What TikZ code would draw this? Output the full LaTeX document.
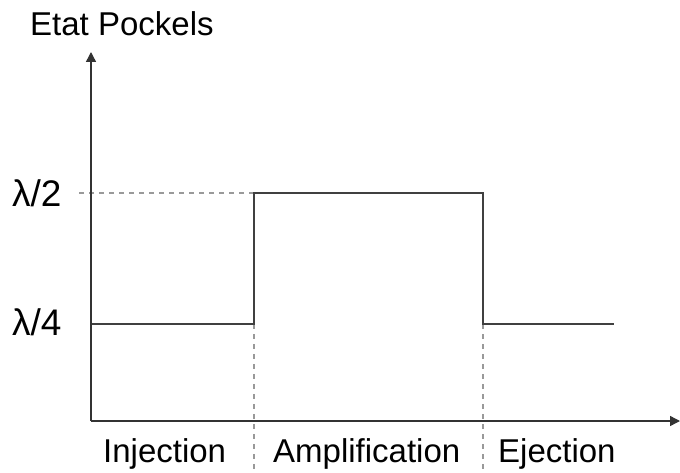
\documentclass[tikz,border=0pt]{standalone}
\usepackage{fontspec}
\setmainfont{Liberation Sans}
\usetikzlibrary{arrows.meta}
\begin{document}
\begin{tikzpicture}[x=1pt,y=-1pt,
  axis/.style={draw=black!80,line width=1.4pt,-{Triangle[length=10pt,width=10pt]}},
  signal/.style={draw=black!75,line width=2pt},
  guide/.style={draw=black!40,line width=1.3pt,dash pattern=on 5pt off 5pt},
  lbl/.style={font=\fontsize{33}{38}\selectfont,inner sep=0pt,anchor=base west},
  lvl/.style={font=\fontsize{37}{42}\selectfont,inner sep=0pt,anchor=base west}]
\useasboundingbox (0,0) rectangle (680,473);
% coordinates
\coordinate (O) at (91,421);
\coordinate (Ytop) at (91,52);
\coordinate (Xend) at (680,421);
\coordinate (s0) at (92,324);
\coordinate (s1) at (254,324);
\coordinate (s2) at (254,193);
\coordinate (s3) at (483,193);
\coordinate (s4) at (483,324);
\coordinate (s5) at (614,324);
\coordinate (g0) at (79,193);
\coordinate (d1) at (254,473);
\coordinate (d2) at (483,473);
% guides
\draw[guide] (g0) -- (s2);
\draw[guide] (s1) -- (d1);
\draw[guide] (s4) -- (d2);
% axes
\draw[axis] (O) -- (Ytop);
\draw[axis] (O) -- (Xend);
% signal
\draw[signal] (s0) -- (s1) -- (s2) -- (s3) -- (s4) -- (s5);
% labels
\node[lbl] (title) at (30,36) {Etat Pockels};
\node[lvl] (l2) at (12,206.5) {λ/2};
\node[lvl] (l4) at (12,335) {λ/4};
\node[lbl] (inj) at (103,462) {Injection};
\node[lbl] (amp) at (273,462) {Amplification};
\node[lbl] (eje) at (498,462) {Ejection};
\end{tikzpicture}
\end{document}
